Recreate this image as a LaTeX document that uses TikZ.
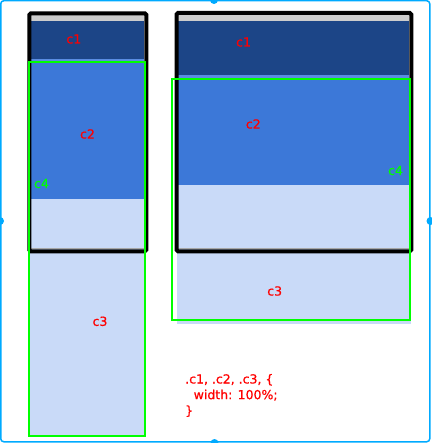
\documentclass[tikz,border=0pt]{standalone}
\usepackage{fontspec}
\setmainfont{DejaVu Sans}
\newfontfamily\lblfont[FakeBold=0.7]{DejaVu Sans}
\definecolor{frameblue}{RGB}{0,170,255}
\definecolor{cone}{RGB}{28,69,135}
\definecolor{ctwo}{RGB}{60,120,216}
\definecolor{cthree}{RGB}{201,218,248}
\definecolor{cband}{RGB}{90,140,225}
\definecolor{cgray}{RGB}{204,204,204}
\definecolor{cgreen}{RGB}{0,255,0}
\definecolor{cred}{RGB}{255,0,0}
\tikzset{
  lbl/.style={font=\lblfont\fontsize{12.5}{16}\selectfont, text=cred, inner sep=0pt},
  glbl/.style={font=\lblfont\fontsize{12.5}{16}\selectfont, text=cgreen, inner sep=0pt},
  codeline/.style={font=\lblfont\fontsize{12.5}{16}\selectfont, text=cred, inner sep=0pt, anchor=base west},
  boxborder/.style={draw=black, line width=4pt, rounded corners=1.5pt},
  greenbox/.style={draw=cgreen, line width=2pt},
  handle/.style={fill=frameblue},
}
\begin{document}
\begin{tikzpicture}[x=1pt,y=-1pt]
\useasboundingbox (0,0) rectangle (431,443);
% outer frame
\draw[frameblue, line width=1.5pt, rounded corners=3pt] (0.75,0.75) rectangle (429.75,441.75);
\fill[handle] (214,0) circle (4);
\fill[handle] (0,221) circle (4);
\fill[handle] (430.5,221) circle (4);
\fill[handle] (214.5,443) circle (4);

% ---- left container ----
\fill[cgray] (31,15) rectangle (144.3,21);
\fill[cone] (31,21) rectangle (144.3,59.5);
\fill[cband] (31,59.5) rectangle (144.3,61);
\fill[ctwo] (31,61) rectangle (144.3,199);
\fill[cthree] (31,199) rectangle (144.3,249.3);
\fill[cthree] (30,249.3) rectangle (144.5,436);
\draw[black!35, line width=0.8pt] (31,248.6) -- (144.3,248.6);
\draw[boxborder] (29.3,13.3) rectangle (146.3,251.3);
\draw[greenbox] (29.3,62) rectangle (145,436);

% ---- right container ----
\fill[cgray] (178.3,15) rectangle (409.3,21);
\fill[cone] (178.3,21) rectangle (409.3,75);
\fill[cband] (178.3,75) rectangle (409.3,78);
\fill[ctwo] (178.3,78) rectangle (409.3,185);
\fill[cthree] (178.3,185) rectangle (409.3,249.3);
\fill[cthree] (176.7,249.3) rectangle (410.7,324);
\draw[black!35, line width=0.8pt] (178.3,248.6) -- (409.3,248.6);
\draw[boxborder] (176.5,13) rectangle (411.3,251.3);
\draw[greenbox] (172,78.7) rectangle (410,320);

% labels
\node[lbl] (l1) at (73.8,39) {c1};
\node[lbl] (l2) at (87.5,134) {c2};
\node[glbl] (l4) at (41.5,183.5) {c4};
\node[lbl] (l3) at (100,321.3) {c3};
\node[lbl] (r1) at (243.5,42) {c1};
\node[lbl] (r2) at (253.3,124) {c2};
\node[glbl] (r4) at (395.5,170.5) {c4};
\node[lbl] (r3) at (274.7,291) {c3};

% code text
\node[codeline] (code1) at (185,383.5) {.c1, .c2, .c3, \{};
\node[codeline] (code2) at (193.5,399.2) {width: 100\%;};
\node[codeline] (code3) at (185,414.9) {\}};
\end{tikzpicture}
\end{document}
